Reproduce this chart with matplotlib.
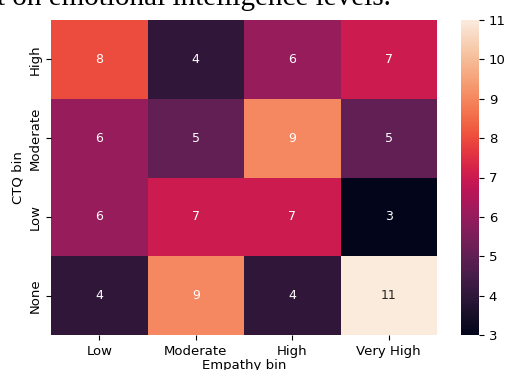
import numpy as np
import pandas as pd
import matplotlib
matplotlib.use("Agg")
import matplotlib.pyplot as plt
import seaborn as sns

ctq_bins = ["High", "Moderate", "Low", "None"]
empathy_bins = ["Low", "Moderate", "High", "Very High"]
counts_high = [8, 4, 6, 7]
counts_moderate = [6, 5, 9, 5]
counts_low = [6, 7, 7, 3]
counts_none = [4, 9, 4, 11]

table = pd.DataFrame(
    [counts_high, counts_moderate, counts_low, counts_none],
    index=pd.Index(ctq_bins, name="CTQ bin"),
    columns=pd.Index(empathy_bins, name="Empathy bin"),
)

fig = plt.figure(figsize=(5.07, 3.70), dpi=100)
ax = fig.add_axes([51 / 507, 1 - 335 / 370, 386 / 507, 315 / 370])
cax = fig.add_axes([461 / 507, 1 - 335 / 370, 18 / 507, 315 / 370])

sns.heatmap(table, annot=True, fmt="d", cmap="rocket", vmin=3, vmax=11,
            ax=ax, cbar_ax=cax, annot_kws={"fontsize": 9})

ax.tick_params(labelsize=9.5)
ax.set_xlabel("Empathy bin", fontsize=9.5, labelpad=1)
ax.set_ylabel("CTQ bin", fontsize=9.5, labelpad=3)
cax.tick_params(labelsize=9.5)

fig.text(-0.006, 1 - 5 / 370, "t on emotional intelligence levels.",
         family="Liberation Serif", fontsize=21, ha="left", va="baseline")

fig.savefig("out.png", dpi=100)
